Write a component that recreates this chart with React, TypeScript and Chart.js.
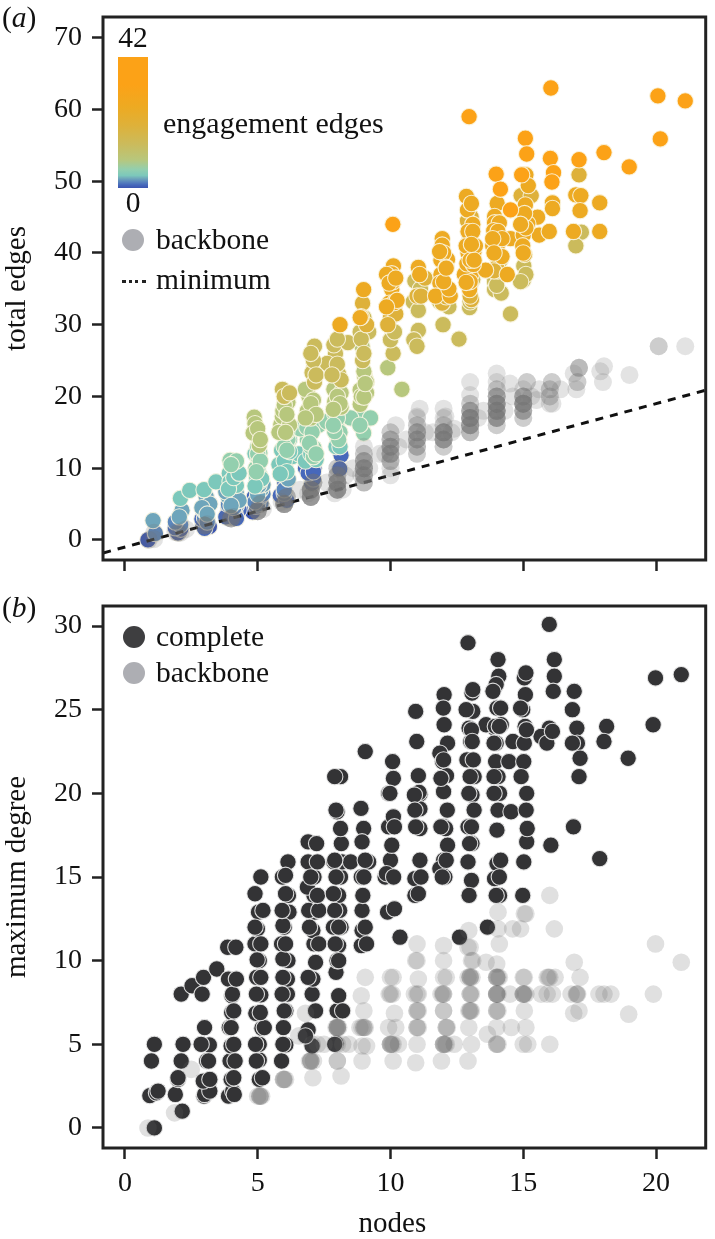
import React, { useEffect, useRef } from "react";
import { Chart, registerables } from "chart.js";

Chart.register(...registerables);

type Pt = [number, number];

const FONT = '"Liberation Serif", "Times New Roman", serif';

// ---- tick labels ----
const nodeTicks = [0, 5, 10, 15, 20];
const edgeTicks = [0, 10, 20, 30, 40, 50, 60, 70];
const degreeTicks = [0, 5, 10, 15, 20, 25, 30];

// ---- panel (a): complete graphs, grouped by engagement-edge count ----
const engagementLevels = [33, 26, 20, 14, 9, 6, 4, 3, 2, 1, 0];

const edges33: Pt[] = [[10.09,44],[12.96,59],[16.04,63],[20.07,61.9],[21.1,61.2],[20.16,55.9],[15.08,56],[15.13,53.8],[16.02,53.2],[17.1,53],[18.04,54],[18.99,52],[16.14,51.2],[16.08,49.9],[13.98,51],[14.94,50.9],[14.14,48.9],[14.52,46]];
const edges26: Pt[] = [[15.1,50.9],[15.19,49.4],[12.86,47.9],[16.98,48.1],[17.17,48],[17.88,47],[14.02,46.9],[15.08,46.7],[16.1,47],[16.1,46.2],[17.14,45.9],[12.9,46],[13.1,44],[13.92,45.1],[13.92,44.2],[14.1,44.2],[15.54,45],[15.17,44.1],[15.6,42.5],[15.98,43],[16.89,43],[17.88,43],[13.89,43.1],[12.98,42],[12.92,43],[14.52,42],[15,42.5],[14.98,41],[14.02,41],[13.85,41],[11.95,42],[11.95,41.1],[12.15,39.1],[11.9,39],[13.14,40.1],[12.92,40],[13.04,37],[12.78,37],[13.58,37.6],[11.9,37],[11.86,35.8],[12.1,34.9],[12.98,34.9],[11.05,38],[10.11,38.2],[10.05,37.1],[10.05,34.9],[9.85,37],[8.99,34.9],[8.9,31.1],[8.1,30],[8.86,31],[9.95,33],[10.15,33.1],[12.88,38.5],[13.12,38.4],[14.2,39.5],[14.4,37],[13,36],[12.85,35.9],[11.7,34],[12.25,34],[12.2,35],[10.25,33.4],[9.85,32.5],[12,40],[12.1,38],[11.85,40.2],[13.2,41],[12.85,41],[13.1,43],[13,39],[13.15,39],[14.05,43],[14.2,42],[13.85,42],[13.9,40],[15.1,43.5],[15.05,45.5],[14.9,44],[15,40],[10.1,36],[9.95,35.8],[10.2,36.5],[11.1,37],[12,36],[12.1,37.9],[13.05,41.2],[13.05,46.9]];
const edges20: Pt[] = [[14.92,48],[13.04,45],[12.9,44.5],[17.1,50.9],[15.3,48],[11.3,36.5],[13.05,33.5],[13,35.5],[10.15,32.5],[11.95,33],[15.05,39.8],[14,39.5],[14,38],[13.9,37.5],[11,34],[11.15,34],[11.95,34.5],[12.1,33.9],[12.9,36.5],[13,34],[10,31],[10.2,31.5],[9.9,30],[9.1,30],[8.95,33]];
const edges14: Pt[] = [[17.19,42.9],[16.98,41],[15.02,38.2],[15,36.2],[14.14,39],[13.92,36],[13.92,34.9],[14.17,34.4],[14.52,31.5],[12.05,33.1],[12.98,32.4],[11.98,30],[12.58,28],[10.92,36.1],[11.13,35],[10.86,33.2],[11.05,32],[11.05,29.2],[10.88,27.9],[11,27],[10.07,31.8],[10.01,28],[10.1,26],[13.1,36.3],[12.2,32.5],[11.85,33.2],[5.93,21],[7.14,27],[7.12,24],[7.05,23.3],[7.14,22],[7.93,26],[7.87,27.2],[7.62,24.6],[8.4,27.5],[8.05,23.1],[8.14,22.3],[8.95,25],[8.86,29],[9.18,29],[10,27.9],[10.15,29],[13,33.2],[14,35.5],[14.05,37.5],[15.1,37],[14.9,36],[9,31],[8,28],[7.1,25],[7,26],[7.2,23],[6,20],[8,24.5],[7.8,23],[8.9,28],[9,26],[6.2,20.5]];
const edges9: Pt[] = [[4.87,17.1],[4.9,16.2],[4.83,14.9],[5.06,13.2],[6.14,19.2],[5.87,16.1],[5.93,17.2],[5.95,18],[6.93,20],[6.87,18],[7.87,21],[8.14,18.5],[8.14,20.5],[7.9,19.3],[8.93,27],[9.03,22.8],[8.86,20.9],[8.86,18.9],[9.9,24],[10.43,21],[9.1,22],[9,23.5],[6.8,21],[7.1,19.5],[5,15.5],[5.1,14],[6,18.8],[6.2,16],[6.1,17.5],[5.8,15],[7,19],[7,17],[7.2,17.5],[6.8,17],[8,20],[8.1,19],[7.85,18.2],[8.9,20],[9.1,20.5],[9,19.9],[9.05,21.8],[6.05,15]];
const edges6: Pt[] = [[5.08,12.1],[4.93,10],[6.14,14],[6.93,14.9],[6.87,14],[7.12,12.8],[7.1,11.6],[8,16.7],[8,15.6],[8.9,17],[8.99,14.9],[3.96,11.1],[5.02,11.5],[7.3,16],[7.6,16.5],[8.5,17],[9.25,17],[7.9,17.6],[6.6,15.5],[6.85,15.7],[5,13],[5,12],[5.1,11],[4.95,9.5],[6,13],[6.1,12.5],[6.1,15],[7,13],[7.05,15],[6.95,13.5],[7.2,12],[8,17],[8.1,15],[8.05,14],[7.9,15.1],[7.85,16],[4.2,11],[4,10.5],[8.85,16]];
const edges4: Pt[] = [[2.09,5.8],[2.44,6.9],[2.98,7],[3.43,8.1],[4.16,10],[3.93,9.3],[3.96,8.1],[4.96,8.8],[5.06,8.1],[5.9,12.5],[6.03,10.2],[8.05,13.7],[6.3,11.6],[5.8,10.5],[6.55,12],[4.9,12],[8,14.4],[5.08,9],[4.2,7.6],[6.2,14],[3.9,7.1],[4.1,8.7],[4.3,9.3],[5,9.9],[5.15,8.5],[4.9,7.5],[6,11],[6.1,9.5],[5.85,9.2],[6.2,12.3],[6.8,11],[7,12],[7.2,11.2],[7.95,13],[8.1,13]];
const edges3: Pt[] = [[1.06,2.7],[2.15,4.1],[3.06,6],[3,4],[3.9,6],[4.08,5.1],[5.12,7],[5,6.3],[4.1,5.8],[3.2,5],[3.8,6.7],[4.2,6.5],[4.3,5.5],[4,4.8],[5.2,7.7],[5.05,7.6],[6,9],[6.15,8.5],[2.9,4.5],[3.1,3.6],[2.05,3.2]];
const edges2: Pt[] = [[5.12,5.1],[1.15,0.9],[4.2,4.8],[3,3.1],[2.1,2.3],[4,5],[3.9,4.9],[4.1,4.5],[5,5],[5.1,6],[4.9,5.3],[5.2,6.4],[6,6.5],[6,7],[2.1,2.1],[3.1,2.5],[1.9,2.5]];
const edges1: Pt[] = [[2,2.8],[2.93,2.3],[3.87,3.7],[4.87,6],[6.02,8],[5.97,5.8],[7.12,10],[6.8,10],[7.03,7.9],[8.14,11.8],[8.09,9.9],[4,3.8],[4.3,4.2],[1.9,1.7],[4.15,3.6],[3.8,3.2],[4.2,3],[5,5],[4.95,4.7],[5.85,6.2],[6.1,5.5],[7,8.8],[7.1,8.5],[6.9,9.3],[7.1,9.5],[3.1,2.8],[3,1.6],[2.9,2.9]];
const edges0: Pt[] = [[0.87,0],[2,1],[3.18,1.85],[3.9,4.4],[4,3.2],[2.1,1.5],[4.81,3.9],[4.16,3.9]];

const edgeBands = [edges33, edges26, edges20, edges14, edges9, edges6, edges4, edges3, edges2, edges1, edges0];

const backboneEdges: Pt[] = [[0.9,0],[1.1,0.1],[1.1,1],[2,1],[2,1],[2.1,1],[1.9,1.1],[2.3,1.5],[3,2],[3,2],[3,2],[3.1,2.2],[4,3],[4,3],[4,3],[4,3],[4.1,3.2],[3.9,3.1],[5,4],[5,4],[5,4],[5,4],[5,4],[5.2,4.3],[5.1,5],[5.1,5],[6,5],[6,5],[6,5],[6,5],[6,5],[6,5],[6.1,6],[6.1,6],[6.1,6],[5.9,5.3],[7,6],[7,6],[7,6],[7,6],[7,6],[7,7],[7,7],[7,7],[7,7],[7,7],[7.1,8],[7.1,8],[7.1,8],[6.9,6.5],[8,7],[8,7],[8,7],[8,7],[8,7],[8,8],[8,8],[8,8],[8,8],[8,8],[8,9],[8,9],[8,9],[8,10],[8,10],[7.9,6.5],[8.2,7],[8.3,9],[9,8],[9,8],[9,8],[9,9],[9,9],[9,9],[9,9],[9,10],[9,10],[9,10],[9,10],[9,11],[9,11],[9,11],[9,12],[9,12],[9,13],[9.2,10],[8.9,9],[10,9],[10,10],[10,11],[10,11],[10,11],[10,12],[10,12],[10,12],[10,13],[10,13],[10,13],[10,14],[10,14],[10,14],[10,15],[10,15],[10.2,16],[9.8,12],[10.3,13],[11,12],[11,12],[11,13],[11,13],[11,13],[11,14],[11,14],[11,14],[11,15],[11,15],[11,15],[11,16],[11,16],[11,17],[11.1,18.3],[11.3,15],[11,17.2],[12,13],[12,13],[12,14],[12,14],[12,14],[12,14],[12,15],[12,15],[12,15],[12,15],[12,16],[12,16],[12,17],[12.07,17.2],[12,18.3],[12.3,15],[13,15],[13,15],[13,15],[13,16],[13,16],[13,16],[13,16],[13,17],[13,17],[13,17],[13,17],[13,18],[13,18],[13,18],[13,19],[13,19],[13,20.2],[13,22],[13.3,17],[14,16],[14,16],[14,17],[14,17],[14,17],[14,17],[14,18],[14,18],[14,18],[14,18],[14,19],[14,19],[14,19],[14,19],[14,20],[14,20],[14,20],[14,21],[14,21],[14,22],[14,23.2],[14.5,21.8],[14.3,18],[15,17],[15,17],[15,18],[15,18],[15,18],[15,19],[15,19],[15,19],[15,19],[15,20],[15,20],[15,20],[15,21],[15.14,22],[15.14,22],[15.5,19.5],[15.3,20],[16,19],[16.1,19],[16,20],[16,20],[16,21],[16,21],[16.08,22],[16.08,22],[17,21],[17.04,22],[17.04,22],[17.1,24],[17.1,24],[17.1,24],[16.9,23.2],[18,22],[17.9,23.5],[18.04,24.2],[19,23],[20.1,27],[20.1,27],[21.1,27],
[13,17],[13,17],[13,18],[13,16],[14,18],[14,18],[14,19],[14,19],[14,17],[14,20],[15,19],[15,19],[15,20],[15,18],[12,15],[12,15],[12,14],[11,14],[11,15],[10,13],[10,12],[9,10],[9,11],[8,8],[8,7],[7,7],[7,6],[12.4,15.5],[11.6,15],[10.6,14],[9.6,12],[13.5,18],[14.6,20],[15.6,21],[16.4,21],[8.6,10],[7.6,8],[6.6,7]];

const minimumNodes = [-0.82, 21.9];
const minimumEdges = [-1.82, 20.9];

// ---- panel (b): maximum degree ----
const completeDegree: Pt[] = [
[1.11,0],[2.16,1],[0.94,1.93],[1.19,2.1],[1,4],[1.11,5],
[1.9,2],[2,2.9],[2.12,4],[2.19,5],[2.12,8],[2.53,8.5],
[2.98,1.9],[3.06,2.5],[3.06,2.8],[3.08,4],[3.18,4.96],[2.87,5],[3,6],[2.91,8],[2.96,9],[3.46,9.5],
[3.9,1.9],[4.06,2.2],[4,2.9],[3.96,4],[4,4.9],[3.93,6],[4.02,6.9],[4.03,7.9],[3.9,8.9],[3.87,10.8],[4.18,10.8],
[5.06,2.9],[5.06,4.06],[5.06,5],[5.16,5.96],[4.93,6.85],[5.12,7.95],[4.96,9],[5.06,10],[4.9,11],[4.99,11.9],[5.03,12.9],[4.9,14],[5.12,15],
[5.9,4],[6.06,4.96],[5.97,6],[6.06,7],[6.12,8],[6.12,8.9],[6.14,10],[5.9,11],[6,12],[6.18,12.9],[6.16,13.9],[5.93,15],[6.14,15.9],
[7.05,4.9],[6.9,5.86],[7.18,7],[7.05,8],[7.08,8.9],[7.18,9.9],[7.12,11],[7.08,11.8],[7.15,12.9],[7.12,13.9],[6.87,14.4],[7.12,15],[6.9,15.9],[6.9,17.1],[7.22,17],
[7.95,5.05],[7.99,7],[8.05,7.9],[7.95,9.3],[7.99,10],[8.05,10.9],[8.14,12],[8.09,13],[8.05,13.9],[8.12,15],[8.18,15.9],[7.87,15.9],[8.5,15.9],[8.15,17],[8.12,17.9],[7.99,18.9],[8.12,21],[7.9,21],
[8.9,10.9],[8.93,11.8],[8.93,13],[8.96,13.9],[8.9,15],[9.18,15.9],[8.99,17.9],[8.93,17.1],[8.89,19.1],[9.05,22.5],
[9.89,12.9],[10.15,13.1],[10.36,11.4],[10.08,15],[9.8,15],[10,16],[10.05,16.9],[9.93,18],[10.11,18.6],[9.93,20],[10.11,20.9],[10.08,21.9],
[10.95,24.9],[10.99,23.1],[11.05,21.06],[11.11,19.95],[11.11,19.07],[11.11,17.9],[11.11,16],[10.92,14.9],[10.92,13.9],
[12.02,25.9],[11.99,25.1],[12.02,24.1],[12.15,23],[11.86,22.4],[11.96,21.9],[12.11,21.06],[12,20.1],[12.14,19],[12.02,18],[12.15,16.9],[12,16],[12.05,15],[11.86,15.5],
[12.92,29],[13.07,26],[13.1,24.9],[12.96,23.9],[13.02,23.1],[12.88,22],[13.15,21],[13.07,19.9],[13.15,19],[12.92,18],[13.07,17],[12.92,15.9],[13.05,14.8],[12.96,13.9],[12.6,11.4],
[14.05,28],[14.08,27],[13.98,26.5],[13.86,26.1],[14.01,25.1],[13.92,23.9],[14.17,24.1],[13.6,24.1],[13.98,23],[13.96,21.9],[14.46,21.9],[14.61,23.1],[14.05,21],[14.11,20],[14.05,19],[14.54,18.9],[14.01,17.8],[14.01,15.8],[13.92,14.9],[14.11,13.9],[13.65,12],
[15.04,26.9],[15.08,25.9],[14.98,25],[15.07,24],[15.04,23],[15.02,21.9],[14.92,21],[15.13,20],[15.11,19],[15.13,17.1],[15.02,15.9],[14.98,13.9],
[15.98,30.1],[16.17,28],[16.17,27],[16.13,26.1],[15.98,23.9],[15.67,23.4],[15.89,23],[16.04,16.9],
[16.92,26.1],[16.85,25],[17.02,23.9],[17.04,23],[17.14,22.1],[17.1,21],[16.89,18],
[18.14,24],[18.04,23.1],[17.88,16.1],[18.95,22.1],[19.98,26.9],[19.89,24.1],[20.95,27.1]];

// points partly hidden under others, showing only a pale rim
const completeHidden: Pt[] = [
[1.25,2.2],[2,3],[3,2],[3.2,2.2],[2.95,2.8],[3.15,4],[3.2,2.9],[4.12,2],[4.1,3],[4.15,4],[4.1,5],[4,6],[4.1,7],[4.05,8],[4.2,8.9],
[5.18,3],[4.95,4],[4.92,5],[5.25,6],[5.1,6.9],[4.95,8],[5.12,9],[4.98,10.05],[5.12,11],[4.9,12],[5.2,13],[5.95,5],[6,7],[5.92,8],[5.95,9],[5.95,10.1],[6.05,11],[5.95,12.1],[5.92,13],[6.05,14],[6.05,15.1],
[6.8,5.5],[6.9,9],[7.3,11],[6.95,12],[6.92,13],[7.3,13],[7.25,13.9],[7,15],[7.25,15.9],[7.9,5],[8.2,7],[8.05,10],[7.92,11],[7.85,12],[8.05,12],[7.9,13],[7.85,14],[7.95,15],[7.9,16],[7.95,19],
[9.1,11],[9.05,12],[9,15],[9.05,16],[9.85,15.2],[10.15,18],[10.12,15],[9.98,20],[11.05,14],[11.15,15],[11.08,20.05],[10.9,19.9],[10.92,19],[10.95,18],[12,22],[11.9,20.9],[12.08,17.9],[11.9,18],[12.1,16],[11.95,15],
[13.1,26.2],[12.85,25],[13.05,23.8],[13.08,23.1],[13.12,22],[13,21],[12.95,20],[13.05,18],[12.98,17],[13.95,24],[14.15,25.1],[14.1,24],[13.9,23],[13.9,21],[13.9,20],[14.15,16],[14.1,15],[13.98,13.9],[15.1,27.2],[14.9,25.1],[15.12,23.8],[15.15,17.9],[16.1,23.7],[16.85,23]];

const backboneDegree: Pt[] = [
[0.87,0],[1.87,0.9],[2.5,3.5],[5.08,1.9],[5.08,1.9],[5,1.9],[5.1,1.9],[5.15,1.9],[5.97,2.9],[5.97,2.9],[6,2.9],[6.05,2.9],[7.08,3],[8.14,3.1],[6.55,5.5],[6.8,6.85],
[7,4],[7,4],[6.95,4],[7.1,4],[7.05,5],[7.25,5],[7.5,5],[8,4],[8,4],[8,5],[8.43,5],[8.2,5],[8,6],[8,6],[8.05,6],[7.95,6],
[9.05,9],[8.9,7.9],[9,7],[8.93,6],[9.05,6],[8.85,6],[8.93,4.9],[9.1,4.9],[8.93,4],
[10,9],[10.1,9],[10.07,8],[9.95,8],[10.15,6.85],[9.93,6],[10.05,5],[10,5],[10.1,5],[10.3,5],[10.1,4],
[11,11],[11,10],[10.95,10],[11.05,8.9],[11.05,8],[11,8],[10.9,8],[11,7],[11.05,7],[11,6],[11.05,6],[10.95,3.9],
[12,10.9],[12,10],[12.1,9],[12,9],[11.96,8],[12,8],[11.9,8],[12,7],[12.14,6],[12.1,6],[12.05,5],[12,5],[12.1,5],[12.4,5],[11.92,4],
[12.95,11.8],[12.92,10.8],[13,10.8],[13.1,10],[13.05,10],[13.07,9],[13,9],[12.92,9],[13.05,8],[13,8],[13,7],[13.05,7],[12.95,7],[12.95,6],[13.05,5],[12.92,4],
[14.05,12.9],[14.05,11.9],[14.1,11],[14,9.8],[13.6,9.9],[14.05,9],[14,9],[14.1,9],[14,8],[14.05,8],[14,8],[14,7],[14.05,7],[14,6],[13.65,5.6],[14,5],[14.05,5],
[15.04,12.8],[15.1,12.8],[14.9,11.9],[14.6,11.9],[15.04,9],[15,9],[15.04,8],[15,8],[15.1,8],[14.5,8],[15.04,7],[15.1,6],[14.55,6],[15,5],[15.17,5],
[16,13.9],[16.17,11.9],[15.9,9],[15.95,9],[16.2,9],[16.1,8],[15.67,8],[15.9,8],[16,5],
[16.92,9.9],[17.14,9],[17.02,8],[17.05,8],[16.8,8],[16.9,6.85],[17.1,7],[18.04,8],[17.85,8],[18.3,8],[18.97,6.8],[19.9,8],[19.98,11],[20.95,9.9],
[14,8],[14,8],[14,9],[14,9],[13,9],[13,8],[13,7],[15,8],[15,8],[14,7],[12,8],[12,5],[12,5],[12.1,6],[11,7],[11,6],[11,5],[10,5],[10,5],[10,8],[12,7],[8,6],[8,6],[9,6],[9,6],[7,4],[16,9],[17,8],[14,5],[13,9.05],[10.2,6]];

// ---- colour scale: engagement edges → colour ----
const scaleValues = [0, 1, 2, 3, 4, 6, 9, 14, 20, 26, 33, 42];
const scaleColours = ["#3b55b0", "#4668bb", "#5a86bd", "#6ea5bb", "#7cc8bb", "#93cfae", "#b7c77d", "#cbbb5c", "#deb13a", "#edaa22", "#fca217", "#fca217"];

const colourFor = (e: number) => scaleColours[scaleValues.indexOf(e)];
const toXY = (pts: Pt[]) => pts.map(([x, y]) => ({ x, y }));
const gradientCss = `linear-gradient(to top, ${scaleValues
  .map((v, i) => `${scaleColours[i]} ${(v / 42) * 100}%`)
  .join(", ")})`;

const framePlugin = {
  id: "frame",
  afterDatasetsDraw(chart: any) {
    const { ctx, chartArea: a } = chart;
    ctx.save();
    ctx.strokeStyle = "#222";
    ctx.lineWidth = 3;
    ctx.strokeRect(a.left, a.top, a.right - a.left, a.bottom - a.top);
    ctx.restore();
  },
};

// the "nodes" title sits left of the plot centre; restore the scale before the points are clipped
const TITLE_SHIFT = 24;
const titleNudge = {
  id: "titleNudge",
  beforeDraw(chart: any) {
    chart.scales.x.right -= TITLE_SHIFT;
  },
  beforeDatasetsDraw(chart: any) {
    chart.scales.x.right += TITLE_SHIFT;
  },
};

function makeAxes(cfg: {
  yMin: number; yMax: number; yTicks: number[]; yTitle: string;
  xLabels: boolean; xTitle?: string; leftW: number; bottomH: number;
}) {
  const tickFont = { family: FONT, size: 28 };
  const clearPadding = (s: any) => {
    s.paddingTop = 0; s.paddingBottom = 0; s.paddingLeft = 0; s.paddingRight = 0;
  };
  return {
    x: {
      type: "linear",
      min: -0.824,
      max: 21.87,
      afterBuildTicks: (s: any) => { s.ticks = nodeTicks.map((value) => ({ value })); },
      afterFit: (s: any) => { s.height = cfg.bottomH; clearPadding(s); },
      grid: { display: true, drawOnChartArea: false, drawTicks: true, tickLength: 11, tickColor: "#222", tickWidth: 2.5 },
      border: { display: false },
      ticks: {
        display: cfg.xLabels, color: "#111", font: tickFont, padding: 8, maxRotation: 0, autoSkip: false,
        callback: (v: any) => String(v),
      },
      title: cfg.xTitle
        ? { display: true, text: cfg.xTitle, color: "#111", font: { family: FONT, size: 29, lineHeight: 1 }, padding: { top: 0, bottom: 0 } }
        : { display: false },
    },
    y: {
      type: "linear",
      min: cfg.yMin,
      max: cfg.yMax,
      afterBuildTicks: (s: any) => { s.ticks = cfg.yTicks.map((value) => ({ value })); },
      afterFit: (s: any) => { s.width = cfg.leftW; clearPadding(s); },
      grid: { display: true, drawOnChartArea: false, drawTicks: true, tickLength: 11, tickColor: "#222", tickWidth: 2.5 },
      border: { display: false },
      ticks: { color: "#111", font: tickFont, padding: 10, autoSkip: false, callback: (v: any) => String(v) },
      title: { display: true, text: cfg.yTitle, color: "#111", font: { family: FONT, size: 29, lineHeight: 1 }, padding: { top: 3, bottom: 0 } },
    },
  };
}

const label = (left: number, top: number, extra: React.CSSProperties = {}): React.CSSProperties => ({
  position: "absolute", left, top, transform: "translateY(-50%)", fontFamily: FONT, fontSize: 29.5,
  lineHeight: 1, color: "#111", whiteSpace: "nowrap", ...extra,
});
const dot = (cx: number, cy: number, colour: string): React.CSSProperties => ({
  position: "absolute", left: cx - 11, top: cy - 11, width: 22, height: 22, borderRadius: "50%", background: colour,
});

export default function App() {
  const aRef = useRef<HTMLCanvasElement>(null);
  const bRef = useRef<HTMLCanvasElement>(null);

  useEffect(() => {
    const dotStyle = { showLine: false, pointRadius: 8.2, pointHoverRadius: 8.2, pointBorderWidth: 1.1 };
    const chartA = new Chart(aRef.current!, {
      type: "scatter",
      data: {
        datasets: [
          {
            data: toXY(backboneEdges), showLine: false, pointRadius: 9, pointBorderWidth: 0,
            pointBackgroundColor: "rgba(115,115,115,0.2)", pointBorderColor: "rgba(0,0,0,0)", label: "backbone",
          },
          {
            type: "line", label: "minimum",
            data: minimumNodes.map((x, i) => ({ x, y: minimumEdges[i] })),
            borderColor: "#111", borderWidth: 3, borderDash: [8, 7], pointRadius: 0, fill: false,
          },
          ...edgeBands.map((pts, i) => ({
            ...dotStyle,
            label: `engagement ${engagementLevels[i]}`,
            data: toXY(pts),
            pointBackgroundColor: colourFor(engagementLevels[i]),
            pointBorderColor: "rgba(250,245,225,0.9)",
          })),
        ] as any,
      },
      options: {
        animation: false, responsive: false,
        layout: { padding: { top: 17, right: 6, left: 0, bottom: 0 } },
        plugins: { legend: { display: false }, tooltip: { enabled: false } },
        scales: makeAxes({ yMin: -2.8, yMax: 72.9, yTicks: edgeTicks, yTitle: "total edges", xLabels: false, leftW: 103, bottomH: 30 }) as any,
      },
      plugins: [framePlugin],
    });

    const chartB = new Chart(bRef.current!, {
      type: "scatter",
      data: {
        datasets: [
          {
            data: toXY(backboneDegree), showLine: false, pointRadius: 8.8, pointBorderWidth: 0,
            pointBackgroundColor: "rgba(100,100,100,0.2)", pointBorderColor: "rgba(0,0,0,0)", label: "backbone",
          },
          {
            ...dotStyle, data: toXY(completeHidden), label: "complete (under)",
            pointBackgroundColor: "#333335", pointBorderColor: "rgba(235,235,235,0.9)",
          },
          {
            ...dotStyle, data: toXY(completeDegree), label: "complete",
            pointBackgroundColor: "#333335", pointBorderColor: "rgba(235,235,235,0.9)",
          },
        ] as any,
      },
      options: {
        animation: false, responsive: false,
        layout: { padding: { top: 16, right: 6, left: 0, bottom: 0 } },
        plugins: { legend: { display: false }, tooltip: { enabled: false } },
        scales: makeAxes({ yMin: -1.2, yMax: 31.2, yTicks: degreeTicks, yTitle: "maximum degree", xLabels: true, xTitle: "nodes", leftW: 103, bottomH: 91 }) as any,
      },
      plugins: [framePlugin, titleNudge],
    });

    return () => { chartA.destroy(); chartB.destroy(); };
  }, []);

  return (
    <div style={{ position: "absolute", left: 0, top: 0, width: 715, height: 1239, background: "#fff", overflow: "hidden" }}>
      <canvas ref={aRef} width={715} height={590} style={{ position: "absolute", left: 0, top: 0 }} />
      <canvas ref={bRef} width={715} height={649} style={{ position: "absolute", left: 0, top: 590 }} />

      <div style={label(2, 18)}>(<i>a</i>)</div>
      <div style={label(118, 38, { width: 30, textAlign: "center" })}>42</div>
      <div style={{ position: "absolute", left: 118, top: 57, width: 30, height: 131, background: gradientCss }} />
      <div style={label(118, 203, { width: 30, textAlign: "center" })}>0</div>
      <div style={label(163, 123, { fontSize: 30 })}>engagement edges</div>
      <div style={dot(133, 240, "#adaeb3")} />
      <div style={label(156, 240)}>backbone</div>
      <div style={{ position: "absolute", left: 122, top: 280, width: 24, height: 0, borderTop: "3px dotted #222" }} />
      <div style={label(156, 280)}>minimum</div>

      <div style={label(2, 608)}>(<i>b</i>)</div>
      <div style={dot(134, 637, "#3e3e40")} />
      <div style={label(156, 637)}>complete</div>
      <div style={dot(134, 673, "#adaeb3")} />
      <div style={label(156, 673)}>backbone</div>
    </div>
  );
}
